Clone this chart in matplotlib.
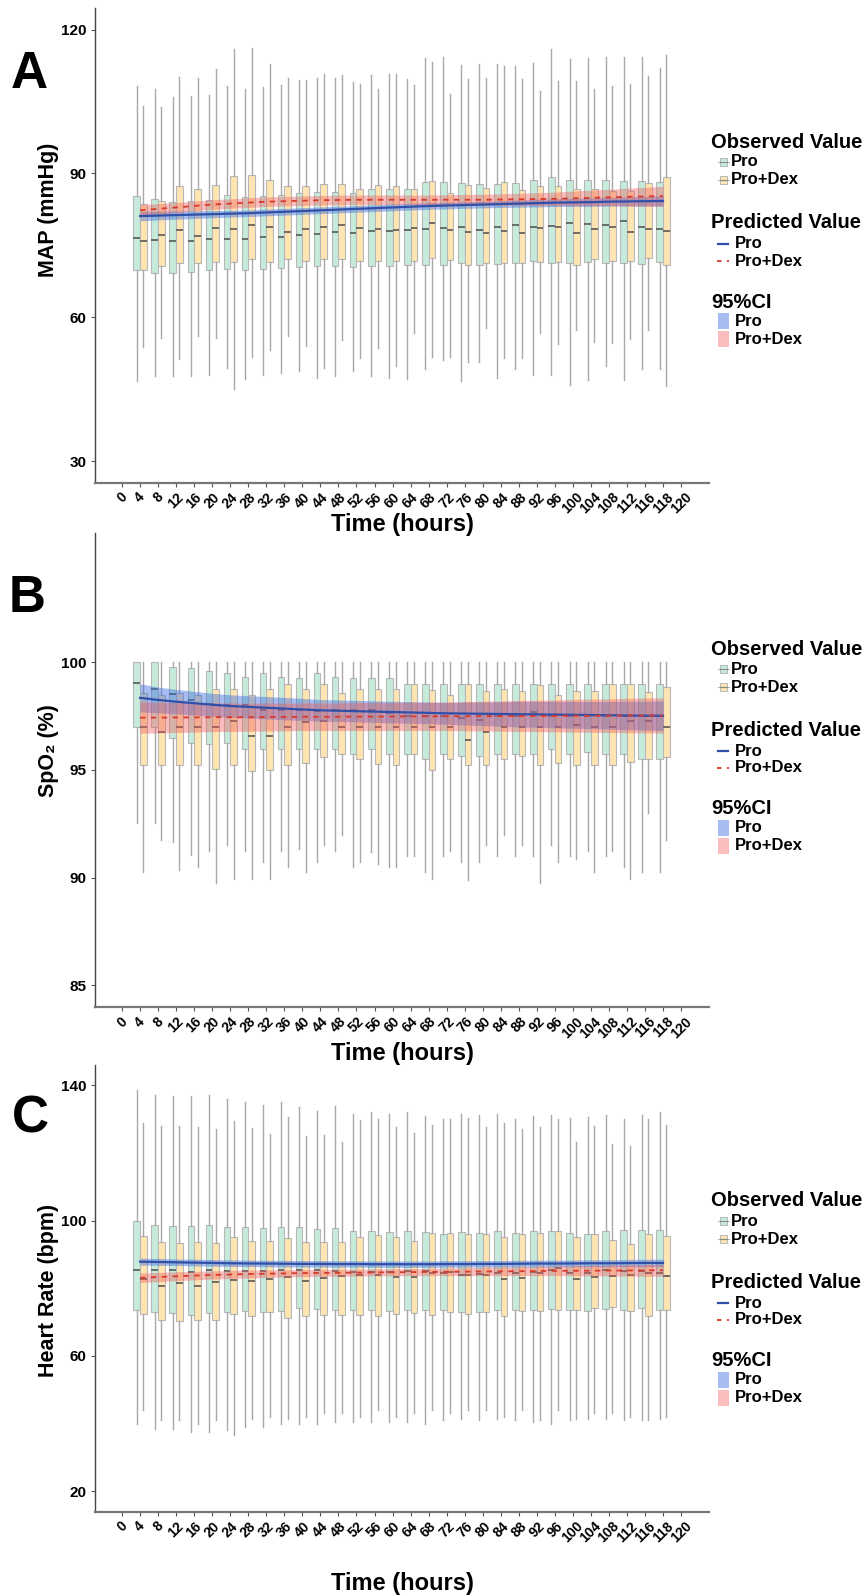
import matplotlib
matplotlib.use("Agg")
import matplotlib.pyplot as plt
from matplotlib.patches import Rectangle
from matplotlib.lines import Line2D

plt.rcParams['font.family'] = ['Liberation Sans', 'DejaVu Sans']
plt.rcParams['font.weight'] = 'bold'

# time points with observations
times = [4, 8, 12, 16, 20, 24, 28, 32, 36, 40, 44, 48, 52, 56, 60,
         64, 68, 72, 76, 80, 84, 88, 92, 96, 100, 104, 108, 112, 116, 118]
tick_labels = ['0'] + [str(t) for t in times] + ['120']

# ---------------- A: MAP ----------------
map_pro_lo = [46.6, 47.8, 47.8, 47.7, 48.0, 49.5, 47.1, 48.0, 48.4, 48.8, 47.3, 47.8, 48.7, 47.8, 47.3,
              47.1, 49.2, 51.0, 46.6, 50.7, 47.3, 49.2, 47.9, 48.0, 45.8, 46.8, 49.8, 46.8, 49.1, 49.3]
map_pro_q1 = [69.8, 69.3, 69.3, 69.5, 69.9, 70.1, 69.9, 70.0, 70.2, 70.4, 70.6, 70.6, 70.4, 70.6, 70.6,
              70.8, 70.9, 70.8, 71.3, 70.8, 71.0, 71.4, 71.8, 71.3, 71.3, 71.5, 71.3, 71.3, 71.2, 71.6]
map_pro_med = [76.6, 76.1, 75.8, 75.9, 76.4, 76.4, 76.3, 76.7, 76.8, 77.1, 77.4, 77.7, 77.5, 77.9, 78.0,
               78.1, 78.4, 78.6, 78.8, 78.2, 78.8, 79.2, 78.8, 79.0, 79.6, 79.4, 79.3, 80.0, 78.9, 78.4]
map_pro_q3 = [85.2, 84.7, 84.1, 84.2, 84.5, 85.4, 85.0, 85.2, 85.4, 86.0, 86.2, 86.2, 86.0, 86.8, 86.7,
              86.8, 88.3, 88.3, 87.9, 87.7, 87.7, 88.0, 88.6, 89.2, 88.6, 88.7, 88.6, 88.5, 88.5, 88.1]
map_pro_hi = [108.2, 107.7, 106.0, 106.2, 106.3, 108.2, 107.5, 108.0, 108.4, 109.5, 109.8, 109.8, 109.0, 110.6, 110.7,
              109.6, 114.0, 114.2, 112.7, 112.9, 112.8, 112.5, 113.1, 115.9, 113.9, 114.0, 114.2, 114.3, 114.2, 112.0]

map_dex_lo = [53.8, 55.6, 51.3, 56.0, 55.6, 45.1, 51.8, 53.1, 56.1, 53.9, 49.4, 55.3, 51.5, 53.6, 49.9,
              56.7, 51.6, 51.6, 50.7, 57.8, 51.4, 51.4, 56.8, 54.4, 57.4, 54.8, 54.6, 55.5, 57.3, 45.6]
map_dex_q1 = [69.8, 70.7, 71.4, 71.3, 71.5, 71.6, 72.1, 71.6, 72.1, 71.7, 72.1, 72.1, 71.8, 71.8, 71.7,
              71.8, 72.3, 72.0, 70.8, 71.3, 71.3, 71.3, 71.6, 71.6, 70.8, 72.1, 71.7, 71.7, 72.3, 70.8]
map_dex_med = [76.0, 77.1, 78.2, 76.9, 78.6, 78.5, 79.3, 78.9, 77.8, 78.4, 78.8, 79.3, 78.6, 78.3, 78.2,
               78.6, 79.6, 78.1, 77.7, 77.6, 78.0, 77.6, 78.6, 78.8, 77.6, 78.4, 78.9, 77.7, 78.3, 78.0]
map_dex_q3 = [83.6, 84.2, 87.4, 86.8, 87.5, 89.5, 89.7, 88.6, 87.3, 87.4, 87.7, 87.8, 86.7, 87.5, 87.4,
              86.7, 88.5, 86.0, 87.5, 87.0, 88.2, 86.6, 87.3, 87.3, 86.8, 86.7, 86.4, 86.4, 88.0, 89.3]
map_dex_hi = [104.1, 103.9, 110.2, 110.0, 111.7, 115.9, 116.1, 112.8, 109.8, 109.5, 110.7, 110.6, 108.7, 107.5, 110.7,
              108.4, 113.3, 106.6, 109.6, 109.8, 112.3, 109.6, 107.2, 109.3, 109.3, 107.7, 108.3, 108.6, 110.3, 114.8]

map_pro_fit = [81.1, 81.2, 81.3, 81.4, 81.5, 81.6, 81.7, 81.85, 82.0, 82.15, 82.3, 82.45, 82.6, 82.75, 82.9,
               83.05, 83.2, 83.3, 83.4, 83.5, 83.6, 83.7, 83.8, 83.9, 83.95, 84.0, 84.1, 84.15, 84.2, 84.25]
map_pro_lwr = [80.1, 80.3, 80.45, 80.6, 80.75, 80.9, 81.0, 81.15, 81.3, 81.45, 81.6, 81.75, 81.9, 82.05, 82.2,
               82.35, 82.5, 82.6, 82.7, 82.8, 82.9, 82.95, 83.0, 83.1, 83.1, 83.1, 83.2, 83.2, 83.2, 83.2]
map_pro_upr = [82.1, 82.1, 82.15, 82.2, 82.25, 82.3, 82.4, 82.55, 82.7, 82.85, 83.0, 83.15, 83.3, 83.45, 83.6,
               83.75, 83.9, 84.0, 84.1, 84.2, 84.3, 84.45, 84.6, 84.7, 84.8, 84.9, 85.0, 85.1, 85.2, 85.3]
map_dex_fit = [82.3, 82.6, 82.9, 83.2, 83.5, 83.7, 83.9, 84.1, 84.2, 84.3, 84.4, 84.45, 84.5, 84.5, 84.5,
               84.5, 84.5, 84.5, 84.5, 84.5, 84.55, 84.6, 84.65, 84.7, 84.8, 84.9, 85.0, 85.1, 85.2, 85.25]
map_dex_lwr = [81.1, 81.5, 81.85, 82.2, 82.5, 82.7, 82.9, 83.1, 83.2, 83.3, 83.4, 83.45, 83.5, 83.5, 83.5,
               83.5, 83.5, 83.5, 83.45, 83.4, 83.4, 83.4, 83.35, 83.35, 83.3, 83.3, 83.25, 83.2, 83.15, 83.1]
map_dex_upr = [83.5, 83.7, 83.95, 84.2, 84.5, 84.7, 84.9, 85.1, 85.2, 85.3, 85.4, 85.45, 85.5, 85.5, 85.5,
               85.5, 85.5, 85.55, 85.6, 85.65, 85.75, 85.85, 85.95, 86.1, 86.3, 86.5, 86.7, 86.9, 87.1, 87.3]

# ---------------- B: SpO2 ----------------
spo_pro_lo = [92.55, 92.55, 91.65, 91.05, 91.25, 91.5, 91.25, 90.75, 91.25, 91.35, 90.75, 91.25, 90.5, 91.19, 90.5,
              90.99, 90.25, 90.99, 90.75, 90.75, 90.99, 90.99, 90.99, 91.5, 90.99, 91.25, 90.99, 90.5, 90.25, 90.25]
spo_pro_q1 = [97.0, 97.0, 96.5, 96.25, 96.21, 96.25, 95.99, 95.99, 95.99, 95.99, 95.99, 95.99, 95.74, 95.99, 95.74,
              95.74, 95.51, 95.74, 95.67, 95.67, 95.74, 95.74, 95.74, 95.99, 95.74, 95.84, 95.74, 95.74, 95.51, 95.51]
spo_pro_med = [99.05, 98.78, 98.52, 98.25, 98.05, 98.02, 98.02, 97.77, 97.77, 97.77, 97.73, 97.77, 97.77, 97.77, 97.65,
               97.49, 97.49, 97.49, 97.4, 97.34, 97.49, 97.49, 97.68, 97.49, 97.49, 97.49, 97.49, 97.49, 97.49, 97.49]
spo_pro_q3 = [100.0, 100.0, 99.78, 99.74, 99.58, 99.51, 99.32, 99.51, 99.32, 99.26, 99.51, 99.32, 99.26, 99.26, 99.26,
              99.01, 99.01, 99.01, 99.01, 99.01, 99.01, 99.01, 99.01, 99.01, 99.01, 99.01, 99.01, 99.01, 99.01, 99.01]
spo_pro_hi = [100.0, 100.0, 100.0, 100.0, 100.0, 100.0, 100.0, 100.0, 100.0, 100.0, 100.0, 100.0, 100.0, 100.0, 100.0,
              100.0, 100.0, 100.0, 100.0, 100.0, 100.0, 100.0, 100.0, 100.0, 100.0, 100.0, 100.0, 100.0, 100.0, 100.0]

spo_dex_lo = [90.25, 91.75, 90.35, 90.5, 89.75, 89.95, 89.95, 89.95, 90.5, 90.25, 91.5, 92.0, 90.75, 90.65, 90.5,
              90.99, 89.95, 91.25, 89.91, 91.5, 92.0, 91.5, 89.75, 90.75, 90.85, 90.25, 91.25, 89.95, 93.0, 91.75]
spo_dex_q1 = [95.25, 95.25, 95.25, 95.25, 95.05, 95.25, 94.95, 95.02, 95.25, 95.33, 95.6, 95.74, 95.51, 95.3, 95.25,
              95.74, 95.02, 95.51, 95.25, 95.25, 95.51, 95.64, 95.25, 95.33, 95.25, 95.25, 95.25, 95.37, 95.51, 95.59]
spo_dex_med = [97.0, 96.75, 97.0, 97.0, 97.0, 97.26, 96.6, 96.6, 97.0, 97.21, 97.26, 97.0, 97.0, 97.0, 97.0,
               97.0, 97.0, 97.0, 96.41, 96.75, 97.0, 97.0, 97.0, 97.0, 97.09, 97.0, 97.0, 97.26, 97.26, 97.0]
spo_dex_q3 = [98.58, 98.48, 98.58, 98.48, 98.76, 98.76, 98.48, 98.76, 99.01, 98.76, 99.01, 98.58, 98.76, 98.76, 98.76,
              99.01, 98.73, 98.5, 99.01, 98.67, 98.76, 98.67, 98.95, 98.5, 98.67, 98.67, 99.01, 99.01, 98.62, 98.85]
spo_dex_hi = [100.0, 100.0, 100.0, 100.0, 100.0, 100.0, 100.0, 100.0, 100.0, 100.0, 100.0, 100.0, 100.0, 100.0, 100.0,
              100.0, 100.0, 100.0, 100.0, 100.0, 100.0, 100.0, 100.0, 100.0, 100.0, 100.0, 100.0, 100.0, 100.0, 100.0]

spo_pro_fit = [98.35, 98.25, 98.17, 98.1, 98.03, 97.97, 97.93, 97.89, 97.85, 97.81, 97.77, 97.75, 97.73, 97.71, 97.69,
               97.67, 97.65, 97.63, 97.62, 97.61, 97.6, 97.59, 97.58, 97.57, 97.56, 97.55, 97.54, 97.53, 97.52, 97.52]
spo_pro_lwr = [97.7, 97.65, 97.6, 97.55, 97.5, 97.45, 97.41, 97.37, 97.33, 97.3, 97.27, 97.25, 97.23, 97.21, 97.19,
               97.17, 97.15, 97.12, 97.09, 97.06, 97.03, 97.0, 96.98, 96.96, 96.94, 96.92, 96.9, 96.87, 96.85, 96.83]
spo_pro_upr = [99.0, 98.85, 98.74, 98.65, 98.56, 98.49, 98.45, 98.41, 98.37, 98.32, 98.27, 98.25, 98.23, 98.21, 98.19,
               98.17, 98.15, 98.14, 98.15, 98.16, 98.17, 98.18, 98.18, 98.18, 98.18, 98.18, 98.18, 98.19, 98.19, 98.21]
spo_dex_fit = [97.43, 97.43, 97.44, 97.44, 97.45, 97.45, 97.45, 97.46, 97.46, 97.47, 97.47, 97.47, 97.48, 97.48, 97.48,
               97.49, 97.49, 97.49, 97.5, 97.5, 97.5, 97.51, 97.51, 97.51, 97.52, 97.52, 97.52, 97.53, 97.53, 97.53]
spo_dex_lwr = [96.7, 96.72, 96.74, 96.76, 96.78, 96.79, 96.8, 96.81, 96.82, 96.83, 96.83, 96.83, 96.83, 96.83, 96.83,
               96.83, 96.83, 96.83, 96.82, 96.81, 96.8, 96.79, 96.78, 96.77, 96.76, 96.75, 96.74, 96.73, 96.72, 96.71]
spo_dex_upr = [98.16, 98.14, 98.14, 98.12, 98.12, 98.11, 98.1, 98.11, 98.1, 98.11, 98.11, 98.11, 98.13, 98.13, 98.13,
               98.15, 98.15, 98.15, 98.18, 98.19, 98.2, 98.23, 98.24, 98.25, 98.28, 98.29, 98.3, 98.33, 98.34, 98.35]

# ---------------- C: Heart rate ----------------
hr_pro_lo = [40.0, 38.5, 38.5, 37.5, 37.5, 38.0, 39.0, 39.0, 40.0, 40.0, 40.0, 40.5, 40.5, 40.5, 40.5,
             40.5, 40.0, 41.0, 41.5, 41.0, 41.5, 41.0, 40.5, 40.0, 41.0, 41.5, 41.5, 41.0, 41.0, 41.5]
hr_pro_q1 = [73.7, 73.0, 72.7, 72.1, 72.8, 72.9, 73.3, 73.0, 73.3, 74.1, 73.9, 73.5, 73.5, 73.7, 73.3,
             73.5, 73.5, 73.5, 73.0, 73.0, 73.7, 73.7, 73.5, 73.9, 73.5, 73.4, 73.9, 73.7, 74.1, 73.7]
hr_pro_med = [85.3, 85.3, 85.3, 84.8, 85.3, 85.2, 85.2, 85.2, 85.4, 85.5, 85.3, 85.2, 84.8, 84.8, 84.8,
              85.0, 85.0, 84.4, 84.0, 84.2, 84.4, 84.5, 84.8, 85.3, 84.6, 84.6, 85.3, 85.2, 85.2, 84.6]
hr_pro_q3 = [99.85, 98.6, 98.35, 98.35, 98.6, 98.1, 98.2, 97.7, 98.0, 98.0, 97.5, 97.7, 96.8, 96.95, 96.7,
             96.95, 96.6, 96.0, 96.6, 96.4, 96.95, 96.4, 96.95, 96.95, 96.4, 96.1, 96.95, 97.2, 97.1, 97.1]
hr_pro_hi = [138.6, 137.0, 136.7, 136.8, 137.0, 136.0, 135.1, 134.2, 135.0, 133.5, 132.3, 133.9, 131.6, 132.0, 131.5,
             132.0, 131.0, 130.0, 131.4, 131.2, 131.4, 129.9, 131.0, 131.2, 130.3, 130.6, 131.2, 130.1, 131.2, 132.0]

hr_dex_lo = [44.0, 41.0, 41.0, 40.0, 41.0, 36.5, 41.5, 42.0, 41.5, 42.0, 43.0, 43.0, 42.0, 44.0, 42.0,
             43.0, 44.0, 43.0, 44.0, 44.0, 42.0, 44.0, 41.0, 44.0, 41.5, 43.0, 43.0, 42.0, 41.0, 42.0]
hr_dex_q1 = [72.4, 70.5, 70.3, 70.5, 70.6, 72.3, 71.9, 73.0, 71.2, 71.9, 72.1, 72.0, 72.0, 71.8, 72.5,
             72.7, 72.0, 72.9, 72.4, 72.9, 71.9, 73.2, 73.2, 73.5, 73.5, 74.1, 74.5, 73.2, 71.7, 73.5]
hr_dex_med = [82.8, 80.8, 81.5, 80.6, 81.9, 82.4, 82.3, 82.8, 83.3, 82.3, 83.1, 83.6, 83.8, 84.0, 83.4,
              83.4, 84.6, 84.8, 84.0, 83.8, 82.7, 83.1, 84.4, 86.1, 82.7, 83.3, 83.6, 84.0, 84.4, 83.7]
hr_dex_q3 = [95.45, 93.7, 93.5, 93.6, 93.4, 95.3, 94.1, 94.1, 94.9, 93.7, 93.6, 93.8, 95.3, 95.7, 95.1,
             93.95, 96.4, 96.4, 96.0, 96.0, 95.3, 96.0, 96.4, 96.95, 95.3, 96.0, 94.3, 93.0, 96.0, 95.6]
hr_dex_hi = [128.8, 127.9, 128.0, 127.7, 127.1, 129.4, 127.4, 125.5, 130.6, 124.9, 125.3, 123.2, 129.7, 130.0, 127.6,
             125.8, 128.4, 129.9, 130.3, 127.6, 128.9, 127.1, 127.6, 129.9, 123.3, 127.9, 122.7, 122.2, 129.9, 128.2]

hr_pro_fit = [87.87, 87.78, 87.68, 87.59, 87.5, 87.4, 87.35, 87.31, 87.26, 87.21, 87.21, 87.17, 87.17, 87.12, 87.12,
              87.12, 87.12, 87.17, 87.17, 87.21, 87.21, 87.26, 87.31, 87.31, 87.35, 87.4, 87.4, 87.45, 87.5, 87.5]
hr_pro_lwr = [86.85, 86.8, 86.72, 86.63, 86.55, 86.46, 86.41, 86.37, 86.32, 86.27, 86.27, 86.23, 86.23, 86.18, 86.18,
              86.18, 86.18, 86.23, 86.23, 86.27, 86.27, 86.3, 86.33, 86.33, 86.35, 86.37, 86.37, 86.4, 86.42, 86.42]
hr_pro_upr = [88.9, 88.8, 88.68, 88.6, 88.5, 88.4, 88.35, 88.3, 88.25, 88.2, 88.2, 88.16, 88.16, 88.1, 88.1,
              88.1, 88.1, 88.16, 88.16, 88.2, 88.2, 88.26, 88.33, 88.33, 88.38, 88.45, 88.45, 88.52, 88.6, 88.6]
hr_dex_fit = [83.1, 83.33, 83.56, 83.75, 83.94, 84.08, 84.22, 84.31, 84.41, 84.5, 84.55, 84.59, 84.64, 84.69, 84.73,
              84.78, 84.83, 84.87, 84.92, 84.97, 85.01, 85.06, 85.11, 85.16, 85.17, 85.2, 85.25, 85.28, 85.3, 85.34]
hr_dex_lwr = [81.69, 81.97, 82.25, 82.49, 82.72, 82.91, 83.05, 83.19, 83.33, 83.47, 83.52, 83.56, 83.61, 83.66, 83.7,
              83.75, 83.75, 83.75, 83.75, 83.75, 83.75, 83.75, 83.75, 83.75, 83.7, 83.66, 83.66, 83.61, 83.56, 83.56]
hr_dex_upr = [84.5, 84.69, 84.87, 85.01, 85.16, 85.25, 85.39, 85.44, 85.48, 85.53, 85.58, 85.62, 85.67, 85.72, 85.76,
              85.81, 85.9, 86.0, 86.09, 86.18, 86.28, 86.37, 86.47, 86.56, 86.65, 86.75, 86.84, 86.93, 87.03, 87.12]

# colours
c_box_pro = '#c6ebda'
c_box_dex = '#fee5b2'
c_box_edge = '#b8b8b8'
c_whisk = '#a8a8a8'
c_med = '#4d4d4d'
c_line_pro = '#2f4fa8'
c_line_dex = '#d93a2b'
c_band_pro = '#3d6ee0'
c_band_dex = '#f05a5a'

W, H = 866, 1596


def draw_panel(ax, pro, dex, fits, ylim, yticks, ylabel, ylab_y, xlab_y):
	ax.patch.set_visible(False)  # keep neighbouring panel titles visible
	pos = list(range(1, len(times) + 1))
	for stats, offset, fc in [(pro, -0.185, c_box_pro), (dex, 0.185, c_box_dex)]:
		lo, q1, med, q3, hi = stats
		bstats = [dict(whislo=lo[i], q1=q1[i], med=med[i], q3=q3[i], whishi=hi[i]) for i in range(len(times))]
		ax.bxp(bstats, positions=[p + offset for p in pos], widths=0.37, patch_artist=True,
			showfliers=False, showcaps=False, manage_ticks=False,
			boxprops=dict(facecolor=fc, edgecolor=c_box_edge, linewidth=0.8),
			whiskerprops=dict(color=c_whisk, linewidth=1.0),
			medianprops=dict(color=c_med, linewidth=1.1))
	pfit, plwr, pupr, dfit, dlwr, dupr = fits
	ax.fill_between(pos, plwr, pupr, color=c_band_pro, alpha=0.45, linewidth=0, zorder=3)
	ax.fill_between(pos, dlwr, dupr, color=c_band_dex, alpha=0.4, linewidth=0, zorder=3)
	ax.plot(pos, pfit, color=c_line_pro, linewidth=1.6, zorder=4)
	ax.plot(pos, dfit, color=c_line_dex, linewidth=1.3, dashes=(3, 3), zorder=4)

	ax.set_xlim(-1.5, 32.55)
	ax.set_ylim(*ylim)
	ax.set_xticks(range(len(tick_labels)))
	ax.set_xticklabels(tick_labels, rotation=45, ha='center', fontsize=10, fontweight='bold')
	ax.set_yticks(yticks)
	ax.set_yticklabels([str(v) for v in yticks], fontsize=11, fontweight='bold')
	for s in ['top', 'right']:
		ax.spines[s].set_visible(False)
	ax.spines['left'].set_color('#444444')
	ax.spines['bottom'].set_color('#777777')
	ax.spines['left'].set_linewidth(1.0)
	ax.spines['bottom'].set_linewidth(1.6)
	ax.tick_params(axis='both', length=3, width=0.8, color='#555555')
	ax.tick_params(axis='x', pad=2.5)
	ax.tick_params(axis='y', pad=3)
	ax.set_xlabel('Time (hours)', fontsize=17, fontweight='bold')
	ax.set_ylabel(ylabel, fontsize=15.5, fontweight='bold')
	ax.yaxis.set_label_coords(-0.058, ylab_y)
	ax.xaxis.set_label_coords(0.5, xlab_y)


def fx(px):
	return px / W


def fy(py):
	return 1 - py / H


def draw_legend(fig, top):
	x0 = 711
	fig.text(fx(x0), fy(top), 'Observed Value', fontsize=14.5, fontweight='bold', va='center', ha='left')
	for dy, fc, lab in [(20, c_box_pro, 'Pro'), (38, c_box_dex, 'Pro+Dex')]:
		y = top + dy
		fig.add_artist(Line2D([fx(718), fx(729)], [fy(y), fy(y)], transform=fig.transFigure, color=c_box_edge, linewidth=0.8))
		fig.add_artist(Rectangle((fx(720), fy(y + 4)), 7 / W, 8 / H, transform=fig.transFigure,
			facecolor=fc, edgecolor=c_box_edge, linewidth=0.7))
		fig.add_artist(Line2D([fx(720), fx(727)], [fy(y), fy(y)], transform=fig.transFigure, color='#888888', linewidth=0.8))
		fig.text(fx(731), fy(y), lab, fontsize=12, fontweight='bold', va='center', ha='left')
	fig.text(fx(x0), fy(top + 81), 'Predicted Value', fontsize=14.5, fontweight='bold', va='center', ha='left')
	y = top + 102
	fig.add_artist(Line2D([fx(718), fx(728)], [fy(y), fy(y)], transform=fig.transFigure, color=c_line_pro, linewidth=1.6))
	fig.text(fx(735), fy(y), 'Pro', fontsize=12, fontweight='bold', va='center', ha='left')
	y = top + 119
	fig.add_artist(Line2D([fx(717), fx(729)], [fy(y), fy(y)], transform=fig.transFigure, color=c_line_dex, linewidth=1.3, dashes=(2.5, 3)))
	fig.text(fx(735), fy(y), 'Pro+Dex', fontsize=12, fontweight='bold', va='center', ha='left')
	fig.text(fx(x0), fy(top + 160), '95%CI', fontsize=14.5, fontweight='bold', va='center', ha='left')
	for dy, fc, a, lab in [(179, c_band_pro, 0.45, 'Pro'), (197, c_band_dex, 0.4, 'Pro+Dex')]:
		y = top + dy
		fig.add_artist(Rectangle((fx(718), fy(y + 8)), 11 / W, 16 / H, transform=fig.transFigure,
			facecolor=fc, alpha=a, linewidth=0))
		fig.text(fx(735), fy(y), lab, fontsize=12, fontweight='bold', va='center', ha='left')


fig = plt.figure(figsize=(8.66, 15.96), dpi=100)
axA = fig.add_axes([95 / W, fy(482.6), 614 / W, 474.6 / H])
axB = fig.add_axes([95 / W, fy(1007), 614 / W, 474 / H])
axC = fig.add_axes([95 / W, fy(1511.6), 614 / W, 446.6 / H])

draw_panel(axA, (map_pro_lo, map_pro_q1, map_pro_med, map_pro_q3, map_pro_hi),
	(map_dex_lo, map_dex_q1, map_dex_med, map_dex_q3, map_dex_hi),
	(map_pro_fit, map_pro_lwr, map_pro_upr, map_dex_fit, map_dex_lwr, map_dex_upr),
	(25.5, 124.5), [30, 60, 90, 120], 'MAP (mmHg)', 0.574, -0.064)
draw_panel(axB, (spo_pro_lo, spo_pro_q1, spo_pro_med, spo_pro_q3, spo_pro_hi),
	(spo_dex_lo, spo_dex_q1, spo_dex_med, spo_dex_q3, spo_dex_hi),
	(spo_pro_fit, spo_pro_lwr, spo_pro_upr, spo_dex_fit, spo_dex_lwr, spo_dex_upr),
	(84.0, 106.0), [85, 90, 95, 100], 'SpO\u2082 (%)', 0.542, -0.074)
draw_panel(axC, (hr_pro_lo, hr_pro_q1, hr_pro_med, hr_pro_q3, hr_pro_hi),
	(hr_dex_lo, hr_dex_q1, hr_dex_med, hr_dex_q3, hr_dex_hi),
	(hr_pro_fit, hr_pro_lwr, hr_pro_upr, hr_dex_fit, hr_dex_lwr, hr_dex_upr),
	(14.0, 146.0), [20, 60, 100, 140], 'Heart Rate (bpm)', 0.496, -0.135)

for lab, x, y in [('A', 29, 74), ('B', 27, 598), ('C', 30, 1119)]:
	fig.text(fx(x), fy(y), lab, fontsize=37, fontweight='bold', ha='center', va='center')

draw_legend(fig, 142)
draw_legend(fig, 649)
draw_legend(fig, 1201)

fig.savefig('out.png', dpi=100)
